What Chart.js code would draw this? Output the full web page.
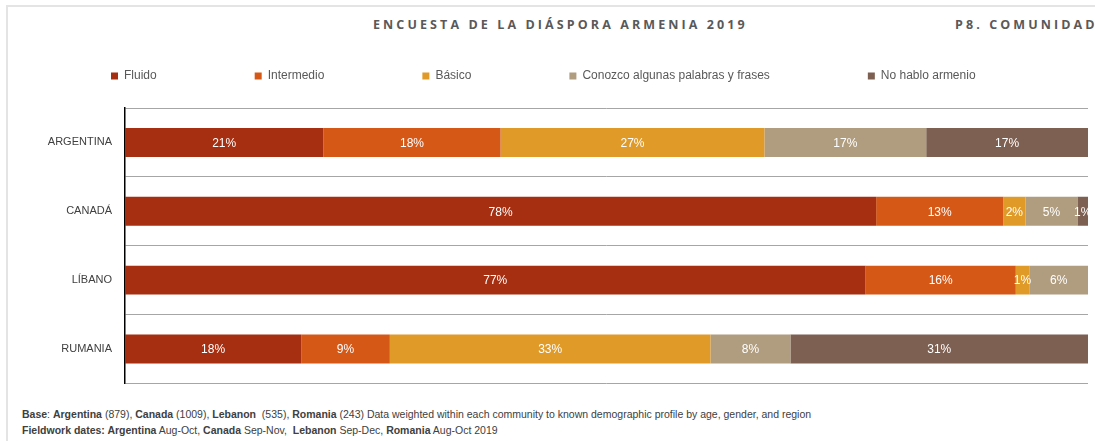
<!DOCTYPE html>
<html>
<head>
<meta charset="utf-8">
<script src="https://cdn.jsdelivr.net/npm/chart.js@4"></script>
<style>
  html, body { margin: 0; padding: 0; background: #fff; }
  body { width: 1095px; height: 441px; position: relative; overflow: hidden; font-family: "Liberation Sans", Arial, sans-serif; }
  .frame { position: absolute; left: 6px; top: 5px; width: 1200px; height: 500px; border-top: 2px solid #e4e4e4; border-left: 2px solid #e4e4e4; }
  .title { position: absolute; top: 16px; font-family: "Open Sans", sans-serif; font-weight: bold; font-size: 12.5px; letter-spacing: 3.1px; color: #595959; white-space: nowrap; }
  #chartBox { position: absolute; left: 0; top: -28px; width: 1095px; height: 431px; }
  .foot { position: absolute; left: 22px; font-size: 10.5px; color: #404040; white-space: nowrap; }
  .foot b { color: #404040; }
</style>
</head>
<body>
<div class="frame"></div>
<div class="title" style="left:373px">ENCUESTA DE LA DIÁSPORA ARMENIA 2019</div>
<div class="title" style="left:955px">P8. COMUNIDAD</div>
<div id="chartBox"><canvas id="levelChart"></canvas></div>
<div class="foot" style="top:408px"><b>Base</b>: <b>Argentina</b> (879), <b>Canada</b> (1009), <b>Lebanon</b> &nbsp;(535), <b>Romania</b> (243) Data weighted within each community to known demographic profile by age, gender, and region</div>
<div class="foot" style="top:424px"><b>Fieldwork dates: Argentina</b> Aug-Oct, <b>Canada</b> Sep-Nov, &nbsp;<b>Lebanon</b> Sep-Dec, <b>Romania</b> Aug-Oct 2019</div>

<script>
// Communities (rows) and language level shares (%)
const communities = ['ARGENTINA', 'CANADÁ', 'LÍBANO', 'RUMANIA'];
const levels = ['Fluido', 'Intermedio', 'Básico', 'Conozco algunas palabras y frases', 'No hablo armenio'];

const fluido     = [20.6, 78.0, 76.9, 18.3];
const intermedio = [18.4, 13.2, 15.6, 9.2];
const basico     = [27.4, 2.3, 1.4, 33.3];
const conozco    = [16.8, 5.4, 6.1, 8.3];
const noHablo    = [16.8, 1.1, 0, 30.9];

const levelColors = ['#a52f10', '#d55817', '#e09a28', '#b09c7e', '#7d6051'];

// Draws the white % labels in the middle of each segment
const segmentLabels = {
    id: 'segmentLabels',
    afterDatasetsDraw(chart) {
        const ctx = chart.ctx;
        const area = chart.chartArea;
        ctx.save();
        ctx.beginPath();
        ctx.rect(area.left, area.top, area.right - area.left, area.bottom - area.top);
        ctx.clip();
        ctx.font = '12px "Liberation Sans", Arial, sans-serif';
        ctx.fillStyle = '#ffffff';
        ctx.textAlign = 'center';
        ctx.textBaseline = 'middle';
        chart.data.datasets.forEach((ds, i) => {
            const meta = chart.getDatasetMeta(i);
            meta.data.forEach((bar, j) => {
                const pct = Math.round(ds.data[j]);
                if (pct < 1) return;
                const pos = bar.getCenterPoint();
                ctx.fillText(pct + '%', pos.x, pos.y + 1);
            });
        });
        ctx.restore();
    }
};

const seriesData = [fluido, intermedio, basico, conozco, noHablo];

new Chart(document.getElementById('levelChart'), {
    type: 'bar',
    data: {
        labels: communities,
        datasets: levels.map((name, i) => ({
            label: name,
            data: seriesData[i],
            backgroundColor: levelColors[i],
            borderWidth: 0,
            categoryPercentage: 1,
            barPercentage: 0.42
        }))
    },
    options: {
        indexAxis: 'y',
        responsive: true,
        maintainAspectRatio: false,
        animation: false,
        layout: {
            padding: { left: 13, right: 7, top: 0, bottom: 4 }
        },
        plugins: {
            legend: {
                position: 'top',
                align: 'start',
                labels: {
                    boxWidth: 7,
                    boxHeight: 7,
                    padding: 98,
                    color: '#595959',
                    font: { family: '"Liberation Sans", Arial, sans-serif', size: 12 }
                }
            },
            tooltip: { enabled: false }
        },
        scales: {
            x: {
                position: 'top',
                stacked: true,
                min: 0,
                max: 100,
                ticks: { display: false },
                grid: { display: false },
                border: { display: false },
                afterFit: function(scale) { scale.height = 16; }
            },
            y: {
                stacked: true,
                grid: {
                    offset: true,
                    drawTicks: false,
                    color: '#a6a6a6',
                    lineWidth: 1
                },
                border: { display: true, color: '#000000', width: 1.5 },
                ticks: {
                    padding: 13,
                    color: '#404040',
                    font: { family: '"Liberation Sans", Arial, sans-serif', size: 11 }
                },
                afterFit: function(scale) { scale.width = 112; }
            }
        }
    },
    plugins: [segmentLabels]
});
</script>
</body>
</html>
